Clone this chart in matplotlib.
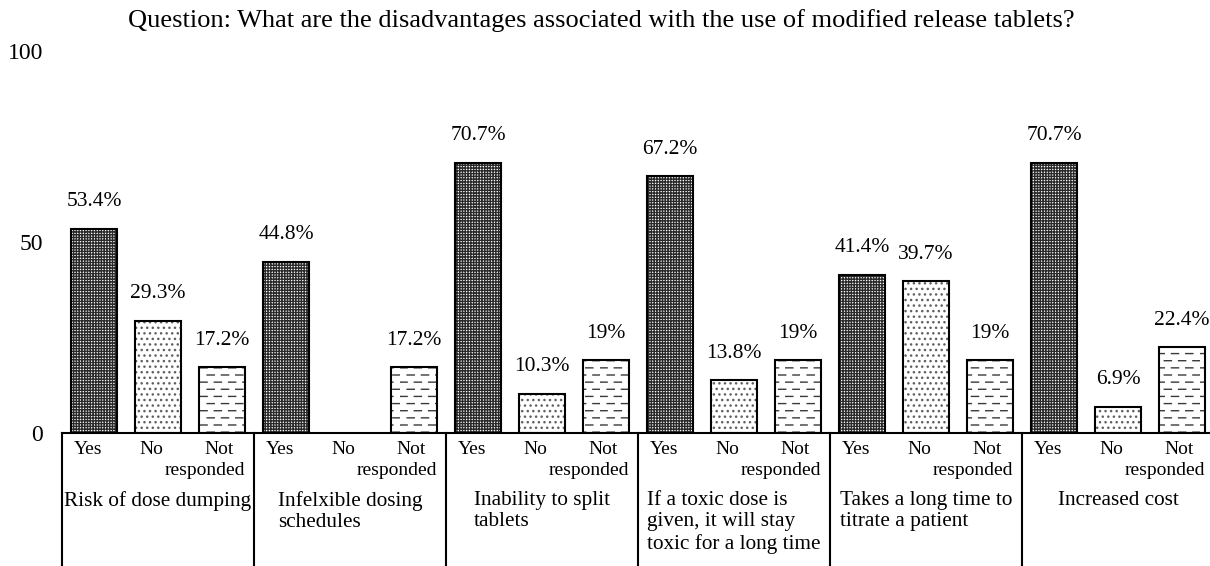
"""
Grouped bar chart of survey answers on the disadvantages of modified
release tablets, with the category names drawn in a boxed "table" strip
under the bars the way the source (Excel-style) figure does it.
"""
import matplotlib
matplotlib.use("Agg")
import matplotlib.hatch as mhatch
import matplotlib.pyplot as plt
import numpy as np
from matplotlib.path import Path

TITLE = "Question: What are the disadvantages associated with the use of modified release tablets?"
CATEGORIES = [
    "Risk of dose dumping",
    "Infelxible dosing\nschedules",
    "Inability to split\ntablets",
    "If a toxic dose is\ngiven, it will stay\ntoxic for a long time",
    "Takes a long time to\ntitrate a patient",
    "Increased cost",
]
RESPONSES = ["Yes", "No", "Not responded"]
YES = [53.4, 44.8, 70.7, 67.2, 41.4, 70.7]
NO = [29.3, np.nan, 10.3, 13.8, 39.7, 6.9]  # nobody answered "No" for the 2nd item - no bar, no label
NOT_RESPONDED = [17.2, 17.2, 19, 19, 19, 22.4]
Y_TICKS = [0, 50, 100]

DASH_ROWS = 14        # rows of dashes per hatch tile (tile = 100 px at dpi 100), even so the stagger tiles
DASHES_PER_ROW = 7


class DashedHorizontalHatch(mhatch.HatchPatternBase):
    """'+' still gives solid horizontal lines; '-' gives rows of staggered dashes."""

    def __init__(self, hatch, density):
        self.num_solid = int(hatch.count('+') * density)
        self.num_rows = DASH_ROWS if '-' in hatch else 0
        self.num_vertices = (self.num_solid + self.num_rows * DASHES_PER_ROW) * 2

    def set_vertices_and_codes(self, vertices, codes):
        k = 0
        if self.num_solid:
            steps, step = np.linspace(0.0, 1.0, self.num_solid, False, retstep=True)
            for y in steps + step / 2:
                vertices[k] = (0.0, y)
                vertices[k + 1] = (1.0, y)
                k += 2
        if self.num_rows:
            rows, row_step = np.linspace(0.0, 1.0, self.num_rows, False, retstep=True)
            period = 1.0 / DASHES_PER_ROW
            for i, y in enumerate(rows + row_step / 2):
                shift = (i % 2) * period / 2
                for j in range(DASHES_PER_ROW):
                    x0 = j * period + shift
                    vertices[k] = (x0, y)
                    vertices[k + 1] = (x0 + 0.5 * period, y)
                    k += 2
        codes[0::2] = Path.MOVETO
        codes[1::2] = Path.LINETO


mhatch._hatch_types[0] = DashedHorizontalHatch

plt.rcParams['font.family'] = ['Liberation Serif', 'DejaVu Serif']
plt.rcParams['hatch.linewidth'] = 1.0

W, H = 1210, 566
fig = plt.figure(figsize=(W / 100, H / 100), dpi=100)
# axis spans x 62..1214 px (slightly past the right edge, as in the source), y 433..51 px
ax = fig.add_axes([62 / W, (H - 433) / H, 1152 / W, 382 / H])

n_groups = len(CATEGORIES)
group_x = np.arange(n_groups) * 3
bar_width = 0.73
series = [
    (YES, '++++++', '#2a2a2a'),
    (NO, '...', '#606060'),
    (NOT_RESPONDED, '-', '#3a3a3a'),
]

for r, (values, hatch, hatch_color) in enumerate(series):
    x = group_x + r
    ax.bar(x, values, width=bar_width, color='white', edgecolor=hatch_color,
           hatch=hatch, linewidth=0, zorder=2)
    ax.bar(x, values, width=bar_width, fill=False, edgecolor='black',
           linewidth=1.5, zorder=3)
    for xi, v in zip(x, values):
        if np.isnan(v):
            continue
        ax.annotate(f"{v:g}%", (xi, v), xytext=(0, 19.5), textcoords='offset points',
                    ha='center', va='center', fontsize=15.5)

ax.set_xlim(-0.5, 3 * n_groups - 0.5)
ax.set_ylim(0, 100)
ax.set_yticks(Y_TICKS)
ax.tick_params(axis='y', length=0, pad=13.5, labelsize=17)
ax.set_xticks([])
for spine in ax.spines.values():
    spine.set_visible(False)

# boxed table strip under the axis
xt = ax.get_xaxis_transform()
ax.plot([-0.5, 3 * n_groups - 0.5], [0, 0], transform=xt, color='black',
        lw=1.5, clip_on=False, zorder=4)
for edge in np.arange(n_groups + 1) * 3 - 0.5:
    ax.plot([edge, edge], [0, -0.5], transform=xt, color='black', lw=1.5,
            clip_on=False, zorder=4)

for g in range(n_groups):
    base = group_x[g]
    ax.text(base - 0.09, -0.042, RESPONSES[0], transform=xt, ha='center', va='center', fontsize=14)
    ax.text(base + 1 - 0.1, -0.042, RESPONSES[1], transform=xt, ha='center', va='center', fontsize=14)
    first, second = RESPONSES[2].split(" ")
    ax.text(base + 2 - 0.05, -0.042, first, transform=xt, ha='center', va='center', fontsize=14)
    ax.text(base + 2 + 0.365, -0.099, second, transform=xt, ha='right', va='center', fontsize=14)
    ax.text(base + 1, -0.151, CATEGORIES[g], transform=xt, ha='center', va='top',
            multialignment='left', fontsize=15.3, linespacing=1.2)

fig.text(0.497, 1 - 21 / H, TITLE, ha='center', va='center', fontsize=19)

fig.savefig("out.png", dpi=100)
